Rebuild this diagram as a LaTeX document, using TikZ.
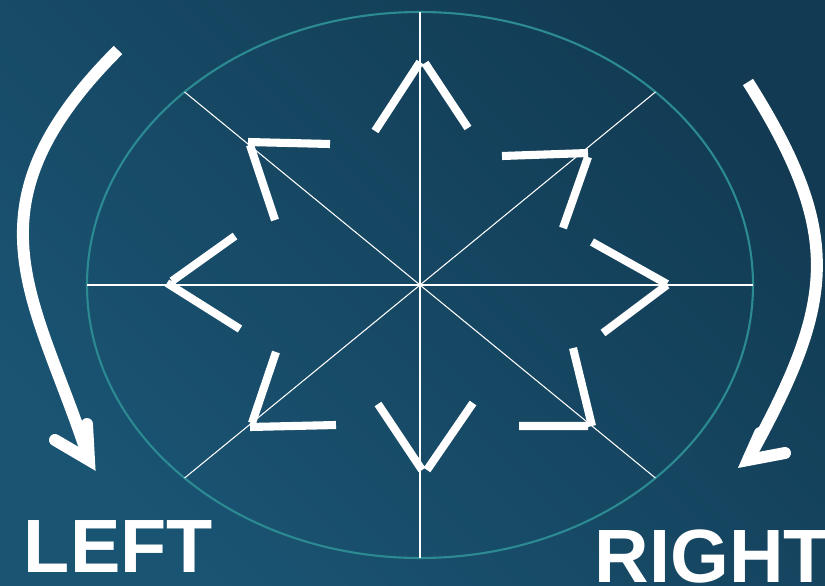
\documentclass[tikz,border=0pt]{standalone}
\usepackage{fontspec}
\setmainfont{Liberation Sans}
\usepackage{xcolor}
\usetikzlibrary{calc}
\definecolor{bgdark}{HTML}{123B53}
\definecolor{bglight}{HTML}{1A5473}
\definecolor{rim}{HTML}{2C8A92}

\begin{document}
\begin{tikzpicture}[x=0.02cm, y=-0.02cm,
  guide/.style={white, line width=0.6pt},
  rimline/.style={rim, line width=1.2pt},
  chevron/.style={white, line width=4.6pt},
  turn/.style={white, line width=6.8pt},
  turnhead/.style={white, line width=6.8pt, line cap=round, line join=miter},
  word/.style={white, font=\bfseries\fontsize{43}{43}\selectfont, inner sep=0pt, anchor=base west}]

\shade[bottom color=bglight, top color=bgdark, shading angle=-45] (0,0) rectangle (825,585);
\useasboundingbox (0,0) rectangle (825,585);

\coordinate (C) at (420,285);

\draw[rimline] (C) ellipse[x radius=333, y radius=273];
\foreach \a in {0,45,90,135}
  \draw[guide] (C) +(\a:333 and 273) -- +(\a+180:333 and 273);

\draw[chevron] (375,131) -- (420,62) (425,63) -- (468,128);
\draw[chevron] (502,156) -- (588,153) (588,157) -- (563,228);
\draw[chevron] (592,242) -- (667,284) (667,285) -- (603,333);
\draw[chevron] (573,348) -- (592,426) (519,426) -- (588,426);
\draw[chevron] (378,404) -- (422,470) (473,403) -- (427,470);
\draw[chevron] (276,352) -- (252,423) (250,427) -- (336,425);
\draw[chevron] (235,236) -- (172,281) (167,283) -- (240,329);
\draw[chevron] (248,142) -- (330,144) (250,145) -- (275,220);

\draw[turn] (118,50) .. controls (-42.6,210.6) and (37.6,299.4) .. (89,460);
\draw[turnhead] (55,440) -- (89,460) -- (87,424);

\draw[turn] (748,82) .. controls (845.7,237) and (833.8,304) .. (748,460);
\draw[turnhead] (760,433) -- (748,460) -- (785,453);

\node[word] (left) at (23.5,572) {LEFT};
\node[word] (right) at (594.5,582) {RIGHT};
\end{tikzpicture}
\end{document}
